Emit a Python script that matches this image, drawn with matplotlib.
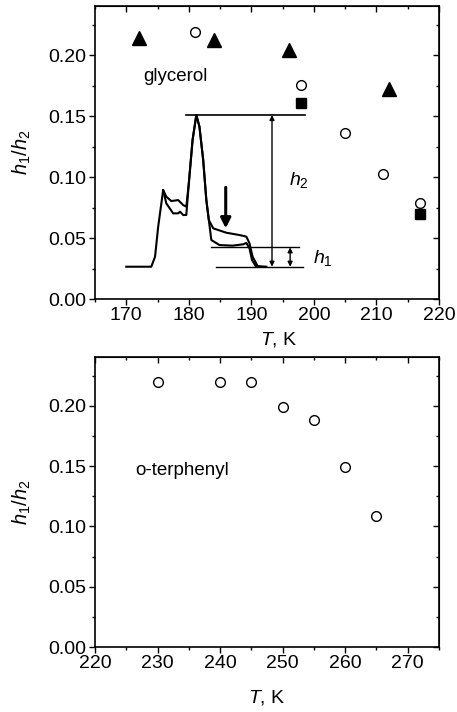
import matplotlib
matplotlib.use("Agg")
import matplotlib.pyplot as plt
from matplotlib.ticker import MultipleLocator

plt.rcParams['font.family'] = ['Liberation Sans', 'DejaVu Sans']
plt.rcParams['mathtext.fontset'] = 'custom'
plt.rcParams['mathtext.rm'] = 'Liberation Sans'
plt.rcParams['mathtext.it'] = 'Liberation Sans:italic'

# ---- data: glycerol (top panel) ----
gly_tri_T = [172, 184, 196, 212]
gly_tri_r = [0.214, 0.213, 0.204, 0.172]
gly_circ_T = [181, 198, 205, 211, 217]
gly_circ_r = [0.219, 0.176, 0.136, 0.103, 0.079]
gly_sq_T = [198, 217]
gly_sq_r = [0.161, 0.070]

# inset spectrum traces (in panel coordinates)
spec_upper_x = [170.0, 174.0, 174.6, 175.1, 175.9, 176.4, 177.2, 178.3, 179.1, 179.6,
                180.0, 180.6, 181.2, 181.7, 182.3, 182.8, 183.2, 183.9, 186.0, 188.1,
                189.2, 189.7, 190.2, 191.0, 192.4]
spec_upper_y = [0.0265, 0.0265, 0.0347, 0.0593, 0.0894, 0.0840, 0.0804, 0.0812, 0.0771, 0.0758,
                0.0950, 0.1305, 0.1510, 0.1414, 0.1140, 0.0812, 0.0648, 0.0580, 0.0544, 0.0525,
                0.0512, 0.0457, 0.0347, 0.0270, 0.0265]
spec_lower_x = [175.9, 176.4, 177.5, 178.3, 178.6, 179.1, 179.6, 180.0, 180.6, 181.2,
                181.7, 182.3, 182.8, 183.2, 183.6, 184.9, 187.0, 188.7, 189.2, 189.7,
                190.1, 190.7, 191.2]
spec_lower_y = [0.0894, 0.0785, 0.0703, 0.0703, 0.0717, 0.0689, 0.0690, 0.0950, 0.1305, 0.1510,
                0.1414, 0.1140, 0.0812, 0.0648, 0.0484, 0.0443, 0.0438, 0.0449, 0.0460, 0.0416,
                0.0320, 0.0270, 0.0265]

# ---- data: o-terphenyl (bottom panel) ----
otp_T = [230, 240, 245, 250, 255, 260, 265]
otp_r = [0.220, 0.220, 0.220, 0.199, 0.188, 0.149, 0.109]

W, H = 457, 712
fig = plt.figure(figsize=(W / 100, H / 100), dpi=100)

ax1 = fig.add_axes([95 / W, 1 - 299 / H, 344 / W, 293 / H])
ax2 = fig.add_axes([95 / W, 1 - 647 / H, 344 / W, 290 / H])

FS = 14


def style(ax, xlim, xticks, labelx, labely):
    ax.set_xlim(*xlim)
    ax.set_ylim(0, 0.2405)
    ax.set_xticks(xticks)
    ax.xaxis.set_minor_locator(MultipleLocator(5))
    ax.set_yticks([0.0, 0.05, 0.10, 0.15, 0.20])
    ax.set_yticklabels(['0.00', '0.05', '0.10', '0.15', '0.20'])
    ax.yaxis.set_minor_locator(MultipleLocator(0.025))
    ax.tick_params(which='both', direction='out', top=False, right=False, labelsize=FS, width=1.0, pad=2)
    ax.tick_params(which='major', length=4)
    ax.tick_params(which='minor', length=2.5)
    # inward ticks on top/right
    secx = ax.secondary_xaxis('top')
    secx.set_xticks(xticks)
    secx.xaxis.set_minor_locator(MultipleLocator(5))
    secx.tick_params(which='both', direction='in', labeltop=False, width=1.0)
    secx.tick_params(which='major', length=4)
    secx.tick_params(which='minor', length=2.5)
    secy = ax.secondary_yaxis('right')
    secy.set_yticks([0.0, 0.05, 0.10, 0.15, 0.20])
    secy.yaxis.set_minor_locator(MultipleLocator(0.025))
    secy.tick_params(which='both', direction='in', labelright=False, width=1.0)
    secy.tick_params(which='major', length=4)
    secy.tick_params(which='minor', length=2.5)
    for s in ax.spines.values():
        s.set_linewidth(1.2)
    ax.set_ylabel(r'$h_1/h_2$', fontsize=FS + 0.5)
    ax.yaxis.set_label_coords(-0.18, 0.5)
    ax.set_xlabel(r'$T$, K', fontsize=FS)
    ax.xaxis.set_label_coords(labelx, labely)


style(ax1, (165, 220), [170, 180, 190, 200, 210, 220], 0.535, -0.105)
style(ax2, (220, 275), [220, 230, 240, 250, 260, 270], 0.5, -0.141)

# top panel markers
ax1.plot(gly_tri_T, gly_tri_r, '^', color='black', ms=9.5, ls='none')
ax1.plot(gly_circ_T, gly_circ_r, 'o', mfc='white', mec='black', mew=1.0, ms=7, ls='none')
ax1.plot(gly_sq_T, gly_sq_r, 's', color='black', ms=6.8, ls='none')

# inset spectrum
ax1.plot(spec_upper_x, spec_upper_y, '-', color='black', lw=1.5)
ax1.plot(spec_lower_x, spec_lower_y, '-', color='black', lw=1.5)

# h2 / h1 construction lines
ax1.plot([179.5, 198.5], [0.151, 0.151], color='black', lw=1.2)
ax1.plot([183.6, 197.6], [0.0424, 0.0424], color='black', lw=1.0)
ax1.plot([184.3, 198.3], [0.0262, 0.0262], color='black', lw=1.0)
ax1.annotate('', xy=(193.3, 0.0265), xytext=(193.3, 0.151),
             arrowprops=dict(arrowstyle='<|-|>', color='black', lw=1.0,
                             mutation_scale=7, shrinkA=0, shrinkB=0))
ax1.annotate('', xy=(196.2, 0.0265), xytext=(196.2, 0.0424),
             arrowprops=dict(arrowstyle='<|-|>', color='black', lw=1.0,
                             mutation_scale=7, shrinkA=0, shrinkB=0))
ax1.annotate('', xy=(185.9, 0.058), xytext=(185.9, 0.0917),
             arrowprops=dict(arrowstyle='-|>', color='black', lw=2.2,
                             mutation_scale=15, shrinkA=0, shrinkB=0))
ax1.text(196.0, 0.098, r'$h_2$', fontsize=FS, ha='left', va='center')
ax1.text(199.8, 0.0335, r'$h_1$', fontsize=FS, ha='left', va='center')
ax1.text(172.7, 0.183, 'glycerol', fontsize=FS - 0.5, ha='left', va='center')

# bottom panel
ax2.plot(otp_T, otp_r, 'o', mfc='white', mec='black', mew=1.0, ms=7, ls='none')
ax2.text(226.4, 0.146, 'o-terphenyl', fontsize=FS - 0.5, ha='left', va='center')

fig.savefig('out.png', dpi=100)
